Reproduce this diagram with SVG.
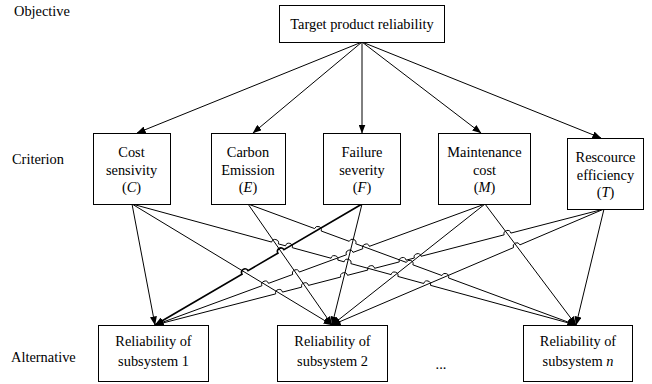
<svg xmlns="http://www.w3.org/2000/svg" width="652" height="384" viewBox="0 0 652 384">
<style>
.box{fill:#fff;stroke:#000;stroke-width:1}
text{font-family:"Liberation Serif","Times New Roman",serif;font-size:14.4px;fill:#000}
.c{text-anchor:middle}
.ln{fill:none;stroke:#000;stroke-width:1}
.bold{stroke-width:1.7}
.i{font-style:italic}
</style>
<defs>
<marker id="ah" markerWidth="9" markerHeight="7" refX="8.5" refY="3.5" orient="auto" markerUnits="userSpaceOnUse">
<path d="M0,0 L9,3.5 L0,7 z" fill="#000"/>
</marker>
</defs>
<rect width="652" height="384" fill="#fff"/>
<g id="level-labels">
<text x="14" y="16">Objective</text>
<text x="12" y="164">Criterion</text>
<text x="11" y="362">Alternative</text>
<text x="441" y="369" class="c">...</text>
</g>
<g id="connectors">
<path class="ln" marker-end="url(#ah)" d="M362,42 L137,133"/>
<path class="ln" marker-end="url(#ah)" d="M362,42 L253,133"/>
<path class="ln" marker-end="url(#ah)" d="M362,42 L362,133"/>
<path class="ln" marker-end="url(#ah)" d="M362,42 L481,133"/>
<path class="ln" marker-end="url(#ah)" d="M362,42 L601,138"/>
<path class="ln" marker-end="url(#ah)" d="M132,204 L155,325"/>
<path class="ln" marker-end="url(#ah)" d="M132,204 L332,325"/>
<path class="ln" marker-end="url(#ah)" d="M132,204 L271.62,242.05 A3.5,3.5 0 0 1 278.38,243.89 L285.52,245.84 A3.5,3.5 0 0 1 292.28,247.68 L331.02,258.23 A3.5,3.5 0 0 1 337.78,260.07 L344.12,261.80 A3.5,3.5 0 0 1 350.88,263.64 L391.12,274.61 A3.5,3.5 0 0 1 397.88,276.45 L423.72,283.49 A3.5,3.5 0 0 1 430.48,285.33 L576,325"/>
<path class="ln" marker-end="url(#ah)" d="M248,204 L332,325"/>
<path class="ln" marker-end="url(#ah)" d="M248,204 L314.62,228.57 A3.5,3.5 0 0 1 321.18,230.99 L349.22,241.34 A3.5,3.5 0 0 1 355.78,243.76 L406.32,262.40 A3.5,3.5 0 0 1 412.88,264.82 L441.92,275.53 A3.5,3.5 0 0 1 448.48,277.95 L576,325"/>
<path class="ln bold" marker-end="url(#ah)" d="M362,204 L283.92,249.64 A3.5,3.5 0 0 0 277.88,253.18 L248.02,270.63 A3.5,3.5 0 0 0 241.98,274.17 L155,325"/>
<path class="ln" marker-end="url(#ah)" d="M362,204 L332,325"/>
<path class="ln" marker-end="url(#ah)" d="M485,204 L369.39,246.35 A3.5,3.5 0 0 0 362.81,248.76 L352.99,252.37 A3.5,3.5 0 0 0 346.41,254.78 L299.29,272.06 A3.5,3.5 0 0 0 292.71,274.47 L268.49,283.35 A3.5,3.5 0 0 0 261.91,285.76 L155,325"/>
<path class="ln" marker-end="url(#ah)" d="M485,204 L332,325"/>
<path class="ln" marker-end="url(#ah)" d="M485,204 L576,325"/>
<path class="ln" marker-end="url(#ah)" d="M604,209 L510.89,233.08 A3.5,3.5 0 0 0 504.11,234.84 L421.09,256.29 A3.5,3.5 0 0 0 414.31,258.05 L406.09,260.16 A3.5,3.5 0 0 0 399.31,261.92 L374.59,268.30 A3.5,3.5 0 0 0 367.81,270.06 L347.49,275.30 A3.5,3.5 0 0 0 340.71,277.06 L308.49,285.38 A3.5,3.5 0 0 0 301.71,287.14 L282.49,292.10 A3.5,3.5 0 0 0 275.71,293.86 L155,325"/>
<path class="ln" marker-end="url(#ah)" d="M604,209 L519.92,244.86 A3.5,3.5 0 0 0 513.48,247.60 L332,325"/>
<path class="ln" marker-end="url(#ah)" d="M604,209 L576,325"/>
</g>
<g id="target">
<rect class="box" x="279.5" y="5.5" width="165" height="37"/>
<text x="362" y="28.5" class="c">Target product reliability</text>
</g>
<g id="cost">
<rect class="box" x="93.5" y="133.5" width="77" height="71"/>
<text x="131.5" y="157" class="c">Cost</text>
<text x="131.5" y="174.5" class="c">sensivity</text>
<text x="131.5" y="192" class="c">(<tspan class="i">C</tspan>)</text>
</g>
<g id="carbon">
<rect class="box" x="211.5" y="133.5" width="74" height="71"/>
<text x="248" y="157" class="c">Carbon</text>
<text x="248" y="174.5" class="c">Emission</text>
<text x="248" y="192" class="c">(<tspan class="i">E</tspan>)</text>
</g>
<g id="failure">
<rect class="box" x="323.5" y="133.5" width="77" height="71"/>
<text x="362" y="157" class="c">Failure</text>
<text x="362" y="174.5" class="c">severity</text>
<text x="362" y="192" class="c">(<tspan class="i">F</tspan>)</text>
</g>
<g id="maintenance">
<rect class="box" x="438.5" y="133.5" width="92" height="71"/>
<text x="484.5" y="157" class="c">Maintenance</text>
<text x="484.5" y="174.5" class="c">cost</text>
<text x="484.5" y="192" class="c">(<tspan class="i">M</tspan>)</text>
</g>
<g id="resource">
<rect class="box" x="567.5" y="138.5" width="76" height="71"/>
<text x="605.5" y="162" class="c">Rescource</text>
<text x="605.5" y="179.5" class="c">efficiency</text>
<text x="605.5" y="197" class="c">(<tspan class="i">T</tspan>)</text>
</g>
<g id="sub1">
<rect class="box" x="98.5" y="325.5" width="110" height="56"/>
<text x="153.5" y="346" class="c">Reliability of</text>
<text x="153.5" y="366" class="c">subsystem 1</text>
</g>
<g id="sub2">
<rect class="box" x="277.5" y="325.5" width="110" height="56"/>
<text x="332.5" y="346" class="c">Reliability of</text>
<text x="332.5" y="366" class="c">subsystem 2</text>
</g>
<g id="subn">
<rect class="box" x="523.5" y="325.5" width="109" height="56"/>
<text x="578" y="346" class="c">Reliability of</text>
<text x="578" y="366" class="c">subsystem <tspan class="i">n</tspan></text>
</g>
</svg>
